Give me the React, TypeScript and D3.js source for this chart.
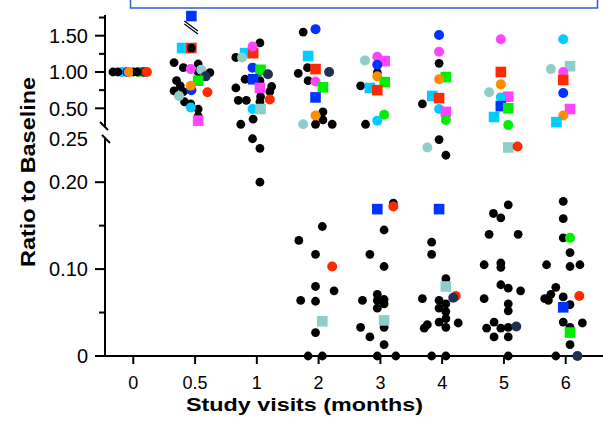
import React, { useRef, useEffect } from "react";
import { select, scaleLinear } from "d3";

const visits = ["0", "0.5", "1", "2", "3", "4", "5", "6"];

// point = [jitter (in visit steps), ratio to baseline, subject]
// "k" = pooled subjects (black dots), upper case subject = square marker
const visit0: [number, number, string][] = [
  [-0.18, 1.0, "c"], [-0.1, 1.0, "b"], [0.09, 1.0, "g"], [0.17, 1.0, "n"],
  [0.22, 1.0, "r"], [-0.33, 1.0, "k"], [-0.25, 1.0, "k"], [0.0, 1.0, "k"],
  [-0.07, 1.0, "o"], [0.06, 1.0, "k"],
];
const visit05: [number, number, string][] = [
  [-0.34, 1.13, "k"], [-0.19, 1.06, "k"], [0.05, 1.11, "k"], [0.05, 1.0, "k"],
  [0.24, 0.99, "k"], [-0.3, 0.88, "k"], [-0.24, 0.81, "k"], [-0.34, 0.74, "k"],
  [-0.19, 0.73, "k"], [-0.17, 0.59, "k"], [-0.07, 0.56, "k"], [0.05, 0.49, "k"],
  [0.05, 0.39, "k"], [0.1, 1.03, "t"], [-0.26, 0.67, "t"],
  [-0.21, 1.33, "C"], [-0.06, 1.33, "R"], [-0.06, 1.33, "k"],
  [-0.07, 1.04, "m"], [0.17, 0.94, "n"], [0.05, 0.88, "G"], [-0.06, 0.75, "b"],
  [-0.07, 0.81, "o"], [0.2, 0.72, "r"], [-0.07, 0.51, "c"], [0.05, 0.33, "M"],
  [-0.06, 1.77, "B"],
];
const visit1: [number, number, string][] = [
  [0.05, 1.4, "k"], [-0.34, 1.2, "k"], [0.05, 1.01, "k"], [-0.19, 0.9, "k"],
  [0.05, 0.88, "k"], [0.24, 0.8, "k"], [0.21, 0.73, "k"], [-0.34, 0.78, "k"],
  [-0.3, 0.61, "k"], [-0.17, 0.61, "k"], [0.06, 0.66, "k"], [0.05, 0.59, "k"],
  [-0.26, 0.28, "k"], [-0.06, 0.35, "k"], [-0.07, 0.25, "k"], [0.05, 0.239, "k"],
  [0.05, 0.2, "k"],
  [-0.19, 1.26, "C"], [-0.24, 1.2, "t"], [-0.06, 1.26, "R"], [-0.07, 1.35, "m"],
  [-0.07, 1.06, "b"], [0.06, 1.03, "G"], [0.18, 0.97, "n"], [-0.06, 0.9, "B"],
  [0.05, 0.78, "M"], [0.21, 0.62, "r"], [-0.07, 0.49, "c"], [0.06, 0.49, "T"],
];
const visit2: [number, number, string][] = [
  [-0.25, 1.55, "k"], [-0.33, 0.98, "k"], [-0.18, 1.06, "k"], [-0.17, 0.88, "k"],
  [0.07, 0.45, "k"], [0.07, 0.34, "k"], [-0.05, 0.28, "k"], [0.22, 0.28, "k"],
  [-0.32, 0.133, "k"], [0.06, 0.149, "k"], [-0.05, 0.117, "k"], [-0.05, 0.08, "k"],
  [-0.29, 0.064, "k"], [-0.05, 0.063, "k"], [0.25, 0.075, "k"], [-0.05, 0.027, "k"],
  [-0.17, 0, "k"], [0.06, 0, "k"],
  [-0.05, 1.59, "b"], [-0.17, 1.22, "C"], [-0.05, 1.04, "R"], [0.17, 1.0, "n"],
  [-0.05, 0.87, "m"], [0.07, 0.79, "G"], [-0.05, 0.65, "B"], [-0.05, 0.4, "o"],
  [-0.25, 0.28, "t"], [0.22, 0.103, "r"], [0.06, 0.04, "T"],
];
const visit3: [number, number, string][] = [
  [-0.05, 0.99, "k"], [-0.32, 0.81, "k"], [-0.24, 0.28, "k"],
  [0.21, 0.176, "k"], [0.06, 0.145, "k"], [-0.17, 0.117, "k"], [0.06, 0.103, "k"],
  [-0.05, 0.071, "k"], [0.06, 0.065, "k"], [-0.05, 0.064, "k"], [-0.29, 0.064, "k"],
  [-0.05, 0.055, "k"], [0.06, 0.06, "k"], [0.06, 0.033, "k"], [-0.32, 0.033, "k"],
  [-0.17, 0.022, "k"], [0.06, 0.013, "k"], [-0.05, 0, "k"], [0.25, 0, "k"],
  [-0.25, 1.16, "t"], [-0.05, 1.21, "m"], [0.07, 1.15, "M"], [-0.05, 1.1, "b"],
  [-0.05, 0.94, "o"], [0.07, 0.86, "G"], [-0.17, 0.78, "C"], [-0.05, 0.75, "R"],
  [0.06, 0.41, "g"], [-0.05, 0.33, "c"], [-0.05, 0.169, "B"], [0.21, 0.172, "r"],
  [0.06, 0.041, "T"],
];
const visit4: [number, number, string][] = [
  [-0.05, 1.12, "k"], [-0.32, 0.56, "k"], [-0.05, 0.249, "k"], [0.06, 0.231, "k"],
  [-0.17, 0.131, "k"], [-0.17, 0.117, "k"], [0.06, 0.089, "k"], [-0.32, 0.066, "k"],
  [-0.05, 0.064, "k"], [0.06, 0.06, "k"], [-0.05, 0.055, "k"], [0.06, 0.051, "k"],
  [0.06, 0.043, "k"], [-0.05, 0.039, "k"], [-0.24, 0.036, "k"], [-0.29, 0.032, "k"],
  [0.06, 0.033, "k"], [0.26, 0.038, "k"], [-0.17, 0, "k"], [0.06, 0, "k"],
  [-0.05, 1.51, "b"], [-0.05, 1.28, "m"], [0.06, 0.93, "G"], [-0.05, 0.9, "o"],
  [-0.16, 0.67, "C"], [-0.05, 0.64, "R"], [-0.05, 0.49, "c"], [0.06, 0.45, "M"],
  [0.06, 0.34, "g"], [-0.24, 0.24, "t"], [-0.05, 0.169, "B"], [0.06, 0.08, "T"],
  [0.22, 0.069, "r"], [0.18, 0.067, "n"],
];
const visit5: [number, number, string][] = [
  [0.07, 0.174, "k"], [-0.17, 0.164, "k"], [-0.05, 0.159, "k"], [-0.24, 0.14, "k"],
  [0.23, 0.14, "k"], [-0.32, 0.105, "k"], [-0.05, 0.107, "k"], [-0.05, 0.102, "k"],
  [-0.05, 0.082, "k"], [0.07, 0.078, "k"], [0.27, 0.075, "k"], [-0.32, 0.066, "k"],
  [0.07, 0.06, "k"], [0.07, 0.052, "k"], [-0.16, 0.039, "k"], [-0.28, 0.032, "k"],
  [-0.05, 0.032, "k"], [0.07, 0.033, "k"], [-0.16, 0.022, "k"], [0.07, 0.022, "k"],
  [0.07, 0, "k"],
  [-0.05, 1.45, "m"], [-0.05, 1.0, "R"], [-0.05, 0.83, "o"], [-0.24, 0.72, "t"],
  [0.07, 0.66, "M"], [-0.05, 0.65, "c"], [-0.05, 0.53, "B"], [0.07, 0.5, "G"],
  [-0.16, 0.38, "C"], [0.07, 0.27, "g"], [0.07, 0.24, "T"], [0.22, 0.241, "r"],
  [0.2, 0.034, "n"],
];
const visit6: [number, number, string][] = [
  [-0.04, 0.178, "k"], [-0.04, 0.158, "k"], [-0.04, 0.136, "k"], [0.07, 0.119, "k"],
  [-0.31, 0.105, "k"], [0.07, 0.103, "k"], [0.23, 0.105, "k"], [-0.16, 0.079, "k"],
  [-0.24, 0.071, "k"], [-0.34, 0.066, "k"], [-0.04, 0.068, "k"], [-0.28, 0.064, "k"],
  [0.07, 0.059, "k"], [-0.04, 0.039, "k"], [0.07, 0.033, "k"], [0.27, 0.038, "k"],
  [0.07, 0.013, "k"], [-0.16, 0, "k"],
  [-0.04, 1.45, "c"], [-0.24, 1.04, "t"], [0.07, 1.08, "T"], [-0.04, 1.0, "m"],
  [-0.04, 0.89, "R"], [-0.04, 0.71, "b"], [0.07, 0.49, "M"], [-0.04, 0.4, "o"],
  [-0.15, 0.31, "C"], [0.07, 0.136, "g"], [0.22, 0.069, "r"], [-0.04, 0.056, "B"],
  [0.07, 0.027, "G"], [0.19, 0, "n"],
];
const visitPoints = [visit0, visit05, visit1, visit2, visit3, visit4, visit5, visit6];

const upperTicks = [0.5, 1.0, 1.5];
const upperMinorTicks = [0.75, 1.25, 1.75];
const lowerTicks = [0, 0.1, 0.2];
const lowerMinorTicks = [0.05, 0.15];
const lowerTopLabel = 0.25;

const subjectColors: Record<string, string> = {
  k: "#000000",
  b: "#0033ff",
  r: "#ff2a00",
  c: "#00ccff",
  m: "#ff44ff",
  g: "#00ee00",
  o: "#ff8c00",
  t: "#8fcec8",
  n: "#1e3150",
};

const FONT = "'Liberation Sans', Arial, Helvetica, sans-serif";

const App = () => {
  const svgRef = useRef<SVGSVGElement>(null);

  useEffect(() => {
    const svg = select(svgRef.current);
    svg.selectAll("*").remove();

    const axisX = 105;
    const xScale = scaleLinear().domain([0, visits.length - 1]).range([133.3, 565.7]);
    // broken y axis: two linear segments
    const yUpper = scaleLinear().domain([0.27, 1.785]).range([125, 15]);
    const yLower = scaleLinear().domain([0, 0.252]).range([356, 137]);
    const yPos = (v: number) => (v >= 0.26 ? yUpper(v) : yLower(v));

    // cut-off box at top
    svg
      .append("rect")
      .attr("x", 130.5)
      .attr("y", -20)
      .attr("width", 467)
      .attr("height", 28)
      .attr("fill", "#fff")
      .attr("stroke", "#2a63cc")
      .attr("stroke-width", 1.5);

    // axes lines
    const axis = svg.append("g").attr("stroke", "#000").attr("stroke-width", 2);
    axis.append("line").attr("x1", axisX).attr("x2", axisX).attr("y1", 15).attr("y2", 126);
    axis.append("line").attr("x1", axisX).attr("x2", axisX).attr("y1", 139).attr("y2", 357);
    axis.append("line").attr("x1", 98).attr("x2", 603).attr("y1", 356).attr("y2", 356);
    // break marks
    axis.append("line").attr("x1", 100).attr("y1", 122).attr("x2", 108).attr("y2", 130);
    axis.append("line").attr("x1", 102).attr("y1", 135).attr("x2", 110).attr("y2", 143);

    // y ticks
    const majors = [
      ...upperTicks.map((v) => ({ v, y: yUpper(v) })),
      ...lowerTicks.map((v) => ({ v, y: yLower(v) })),
    ];
    const minors = [
      ...upperMinorTicks.map((v) => yUpper(v)),
      ...lowerMinorTicks.map((v) => yLower(v)),
    ];
    axis
      .selectAll(".ymajor")
      .data(majors)
      .join("line")
      .attr("x1", axisX - 10)
      .attr("x2", axisX)
      .attr("y1", (d) => d.y)
      .attr("y2", (d) => d.y);
    axis
      .selectAll(".yminor")
      .data(minors)
      .join("line")
      .attr("x1", axisX - 6)
      .attr("x2", axisX)
      .attr("y1", (d) => d)
      .attr("y2", (d) => d);

    const fmt = (v: number) => (v === 0 ? "0" : v.toFixed(2));
    svg
      .selectAll(".ylabel")
      .data([...majors, { v: lowerTopLabel, y: yLower(lowerTopLabel) }])
      .join("text")
      .attr("x", 88)
      .attr("y", (d) => d.y)
      .attr("dy", "0.36em")
      .attr("text-anchor", "end")
      .attr("font-family", FONT)
      .attr("font-size", 20)
      .text((d) => fmt(d.v));

    // x ticks
    axis
      .selectAll(".xtick")
      .data(visits)
      .join("line")
      .attr("x1", (d, i) => xScale(i))
      .attr("x2", (d, i) => xScale(i))
      .attr("y1", 356)
      .attr("y2", 364);
    svg
      .selectAll(".xlabel")
      .data(visits)
      .join("text")
      .attr("x", (d, i) => xScale(i))
      .attr("y", 389)
      .attr("text-anchor", "middle")
      .attr("font-family", FONT)
      .attr("font-size", 18)
      .text((d) => d);

    // titles
    svg
      .append("text")
      .attr("x", 304.5)
      .attr("y", 410.5)
      .attr("text-anchor", "middle")
      .attr("font-family", FONT)
      .attr("font-weight", "bold")
      .attr("font-size", 19)
      .attr("textLength", 237)
      .attr("lengthAdjust", "spacingAndGlyphs")
      .text("Study visits (months)");
    svg
      .append("text")
      .attr("transform", "translate(35,172) rotate(-90)")
      .attr("text-anchor", "middle")
      .attr("font-family", FONT)
      .attr("font-weight", "bold")
      .attr("font-size", 21)
      .attr("textLength", 190)
      .attr("lengthAdjust", "spacingAndGlyphs")
      .text("Ratio to Baseline");

    // points
    const pts = visitPoints.flatMap((arr, i) =>
      arr.map(([j, v, s]) => ({ x: xScale(i + j), y: yPos(v), s, v }))
    );
    const marks = svg.append("g");
    pts.forEach((p) => {
      const key = p.s.toLowerCase();
      const color = subjectColors[key];
      if (p.s !== key) {
        marks
          .append("rect")
          .attr("x", p.x - 5.3)
          .attr("y", p.y - 5.3)
          .attr("width", 10.6)
          .attr("height", 10.6)
          .attr("fill", color);
      } else {
        marks
          .append("circle")
          .attr("cx", p.x)
          .attr("cy", p.y)
          .attr("r", key === "k" ? 4.4 : 5)
          .attr("fill", color);
      }
    });

    // off-scale marker break for the highest value
    const top = pts.reduce((a, b) => (b.v > a.v ? b : a));
    const brk = svg.append("g").attr("stroke", "#000").attr("stroke-width", 1.2);
    [5, 8].forEach((o) =>
      brk
        .append("line")
        .attr("x1", top.x - 7)
        .attr("y1", top.y + o)
        .attr("x2", top.x + 6.5)
        .attr("y2", top.y + o + 10)
    );
  }, []);

  return (
    <svg
      ref={svgRef}
      width={603}
      height={426}
      style={{ position: "absolute", left: 0, top: 0, background: "#fff" }}
    />
  );
};

export default App;
